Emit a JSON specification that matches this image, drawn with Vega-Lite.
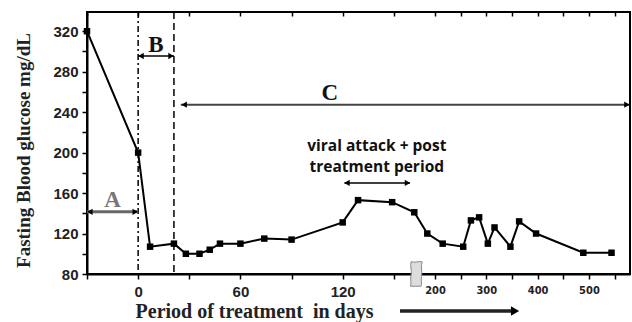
{
  "$schema": "https://vega.github.io/schema/vega-lite/v6.json",
  "width": 543,
  "height": 262,
  "autosize": "none",
  "padding": {"left": 87, "top": 12, "right": 2, "bottom": 48},
  "background": "white",
  "config": {
    "view": {"stroke": "black", "strokeWidth": 2},
    "axis": {"grid": false, "domainColor": "black", "domainWidth": 2, "tickColor": "black", "tickWidth": 1.5, "labelFont": "Liberation Sans", "labelFontWeight": "bold", "labelColor": "#222", "titleColor": "#222"}
  },
  "datasets": {
    "pts": [
      {"day": -30, "glucose": 320}, {"day": 0, "glucose": 200}, {"day": 7, "glucose": 107}, {"day": 21, "glucose": 110},
      {"day": 28, "glucose": 100}, {"day": 36, "glucose": 100}, {"day": 42, "glucose": 104}, {"day": 48, "glucose": 110},
      {"day": 60, "glucose": 110}, {"day": 74, "glucose": 115}, {"day": 90, "glucose": 114}, {"day": 120, "glucose": 131},
      {"day": 129, "glucose": 153}, {"day": 149, "glucose": 151}, {"day": 162, "glucose": 141}, {"day": 185, "glucose": 120},
      {"day": 215, "glucose": 110}, {"day": 255, "glucose": 107}, {"day": 270, "glucose": 133}, {"day": 286, "glucose": 136},
      {"day": 303, "glucose": 110}, {"day": 316, "glucose": 126}, {"day": 347, "glucose": 107}, {"day": 364, "glucose": 132},
      {"day": 397, "glucose": 120}, {"day": 489, "glucose": 101}, {"day": 544, "glucose": 101}
    ],
    "vlines": [{"day": 0, "id": "start"}, {"day": 21, "id": "end"}],
    "arrows": [
      {"id": "A", "x1": -30, "x2": 0, "y": 141.5},
      {"id": "B", "x1": 0, "x2": 21, "y": 295.5},
      {"id": "C", "x1": 25, "x2": 578, "y": 247.4},
      {"id": "V", "x1": 121, "x2": 159.5, "y": 170},
      {"id": "T", "x1": 153.6, "x2": 358, "y": 43.5}
    ],
    "heads": [
      {"id": "A", "x": -28.3, "y": 141.5, "dir": "left"}, {"id": "A", "x": -1.7, "y": 141.5, "dir": "right"},
      {"id": "B", "x": 1.7, "y": 295.5, "dir": "left"}, {"id": "B", "x": 19.3, "y": 295.5, "dir": "right"},
      {"id": "C", "x": 27, "y": 247.4, "dir": "left"}, {"id": "C", "x": 574, "y": 247.4, "dir": "right"},
      {"id": "V", "x": 122.5, "y": 170, "dir": "left"}, {"id": "V", "x": 158, "y": 170, "dir": "right"},
      {"id": "T", "x": 356, "y": 43.5, "dir": "right"}
    ],
    "letters": [
      {"id": "A", "x": -15, "y": 146.5, "text": "A"},
      {"id": "B", "x": 10.5, "y": 299.5, "text": "B"},
      {"id": "C", "x": 112.5, "y": 252, "text": "C"}
    ],
    "notes": [
      {"x": 140, "y": 201.5, "text": "viral attack + post"},
      {"x": 140, "y": 180.5, "text": "treatment period"}
    ],
    "brk": [{"x": 163, "y": 80}]
  },
  "resolve": {"axis": {"x": "independent", "y": "independent"}},
  "layer": [
    {
      "data": {"name": "vlines"},
      "transform": [{"filter": "datum.id === 'start'"}],
      "mark": {"type": "rule", "color": "black", "strokeWidth": 1.5, "strokeDash": [6, 3, 2, 3]},
      "encoding": {
        "x": {"field": "day", "type": "quantitative", "scale": {"domain": [-30, 163, 580], "range": [0, 329, 543], "nice": false, "zero": false},
          "axis": {"orient": "top", "values": [-30, 0, 30, 60, 90, 120, 150, 200, 250, 300, 350, 400, 450, 500, 550], "labels": false, "domain": false, "tickSize": -4, "title": null}}
      }
    },
    {
      "data": {"name": "vlines"},
      "transform": [{"filter": "datum.id === 'end'"}],
      "mark": {"type": "rule", "color": "black", "strokeWidth": 1.5, "strokeDash": [7, 4]},
      "encoding": {
        "x": {"field": "day", "type": "quantitative", "scale": {"domain": [-30, 163, 580], "range": [0, 329, 543], "nice": false, "zero": false}, "axis": null}
      }
    },
    {
      "data": {"name": "pts"},
      "mark": {"type": "line", "color": "black", "strokeWidth": 2},
      "encoding": {
        "x": {"field": "day", "type": "quantitative", "scale": {"domain": [-30, 163, 580], "range": [0, 329, 543], "nice": false, "zero": false},
          "axis": {"orient": "bottom", "values": [-30, 0, 30, 60, 90, 120, 150, 200, 250, 300, 350, 400, 450, 500, 550],
            "labelExpr": "indexof([0,60,120,200,300,400,500], datum.value) >= 0 ? datum.label : ''",
            "labelFontSize": {"condition": {"test": "datum.value >= 200", "value": 11}, "value": 15},
            "labelFont": {"condition": {"test": "datum.value >= 200", "value": "Liberation Sans Narrow, DejaVu Sans Condensed, Liberation Sans"}, "value": "Liberation Sans"},
            "tickSize": 5, "labelPadding": 5, "labelFlush": false, "labelOverlap": false,
            "title": "Period of treatment\u00a0 in days", "titleFont": "Liberation Serif", "titleFontWeight": "bold", "titleFontSize": 20,
            "titleAnchor": null, "titleAlign": "center", "titleBaseline": "alphabetic", "titleX": 167, "titleY": 43}},
        "y": {"field": "glucose", "type": "quantitative", "scale": {"domain": [80, 339], "nice": false, "zero": false},
          "axis": {"values": [80, 100, 120, 140, 160, 180, 200, 220, 240, 260, 280, 300, 320],
            "labelExpr": "datum.value % 40 === 0 ? datum.label : ''", "labelFontSize": 15, "tickSize": 5, "labelPadding": 4,
            "title": "Fasting Blood glucose mg/dL", "titleFont": "Liberation Serif", "titleFontWeight": "bold", "titleFontSize": 19,
            "titleAngle": 270, "titleAlign": "center", "titleBaseline": "middle", "titleX": -64, "titleY": 138}}
      }
    },
    {
      "data": {"name": "pts"},
      "mark": {"type": "point", "shape": "square", "filled": true, "color": "black", "size": 42, "opacity": 1},
      "encoding": {
        "x": {"field": "day", "type": "quantitative", "scale": {"domain": [-30, 163, 580], "range": [0, 329, 543], "nice": false, "zero": false}, "axis": null},
        "y": {"field": "glucose", "type": "quantitative", "scale": {"domain": [80, 339], "nice": false, "zero": false}, "axis": null}
      }
    },
    {
      "data": {"name": "arrows"},
      "transform": [{"filter": "datum.id === 'A'"}],
      "mark": {"type": "rule", "color": "#666", "strokeWidth": 3},
      "encoding": {
        "x": {"field": "x1", "type": "quantitative", "axis": null}, "x2": {"field": "x2"},
        "y": {"field": "y", "type": "quantitative", "axis": null}
      }
    },
    {
      "data": {"name": "arrows"},
      "transform": [{"filter": "datum.id === 'B' || datum.id === 'V'"}],
      "mark": {"type": "rule", "color": "black", "strokeWidth": 1.6},
      "encoding": {
        "x": {"field": "x1", "type": "quantitative", "axis": null}, "x2": {"field": "x2"},
        "y": {"field": "y", "type": "quantitative", "axis": null}
      }
    },
    {
      "data": {"name": "arrows"},
      "transform": [{"filter": "datum.id === 'C'"}],
      "mark": {"type": "rule", "color": "#444", "strokeWidth": 2},
      "encoding": {
        "x": {"field": "x1", "type": "quantitative", "axis": null}, "x2": {"field": "x2"},
        "y": {"field": "y", "type": "quantitative", "axis": null}
      }
    },
    {
      "data": {"name": "arrows"},
      "transform": [{"filter": "datum.id === 'T'"}],
      "mark": {"type": "rule", "color": "#222", "strokeWidth": 3.5},
      "encoding": {
        "x": {"field": "x1", "type": "quantitative", "axis": null}, "x2": {"field": "x2"},
        "y": {"field": "y", "type": "quantitative", "axis": null}
      }
    },
    {
      "data": {"name": "heads"},
      "transform": [{"filter": "datum.id !== 'T'"}],
      "mark": {"type": "point", "filled": true, "color": "black", "size": 40, "opacity": 1},
      "encoding": {
        "x": {"field": "x", "type": "quantitative", "axis": null},
        "y": {"field": "y", "type": "quantitative", "axis": null},
        "shape": {"field": "dir", "type": "nominal", "scale": {"domain": ["left", "right"], "range": ["triangle-left", "triangle-right"]}, "legend": null}
      }
    },
    {
      "data": {"name": "heads"},
      "transform": [{"filter": "datum.id === 'T'"}],
      "mark": {"type": "point", "filled": true, "color": "black", "size": 90, "opacity": 1, "shape": "triangle-right"},
      "encoding": {
        "x": {"field": "x", "type": "quantitative", "axis": null},
        "y": {"field": "y", "type": "quantitative", "axis": null}
      }
    },
    {
      "data": {"name": "letters"},
      "mark": {"type": "text", "font": "Liberation Serif", "fontWeight": "bold", "fontSize": 23, "align": "center", "baseline": "alphabetic"},
      "encoding": {
        "x": {"field": "x", "type": "quantitative", "axis": null},
        "y": {"field": "y", "type": "quantitative", "axis": null},
        "text": {"field": "text"},
        "color": {"field": "id", "type": "nominal", "scale": {"domain": ["A", "B", "C"], "range": ["#777", "#111", "#111"]}, "legend": null}
      }
    },
    {
      "data": {"name": "notes"},
      "mark": {"type": "text", "font": "Open Sans", "fontWeight": "bold", "fontSize": 15.5, "align": "center", "baseline": "alphabetic", "color": "#111"},
      "encoding": {
        "x": {"field": "x", "type": "quantitative", "axis": null},
        "y": {"field": "y", "type": "quantitative", "axis": null},
        "text": {"field": "text"}
      }
    },
    {
      "data": {"name": "brk"},
      "mark": {"type": "point", "filled": true, "fill": "#ddd", "stroke": "#888", "strokeWidth": 1, "opacity": 1, "fillOpacity": 1, "size": 600,
        "shape": "M-0.4,-1 C-0.15,-0.9 0.2,-1.05 0.5,-1 C0.35,-0.6 0.55,-0.2 0.45,0.2 C0.38,0.5 0.52,0.8 0.4,1 L-0.45,1 C-0.35,0.7 -0.5,0.4 -0.4,0.1 C-0.3,-0.3 -0.52,-0.7 -0.4,-1 Z"},
      "encoding": {
        "x": {"field": "x", "type": "quantitative", "axis": null},
        "y": {"field": "y", "type": "quantitative", "axis": null}
      }
    }
  ]
}
